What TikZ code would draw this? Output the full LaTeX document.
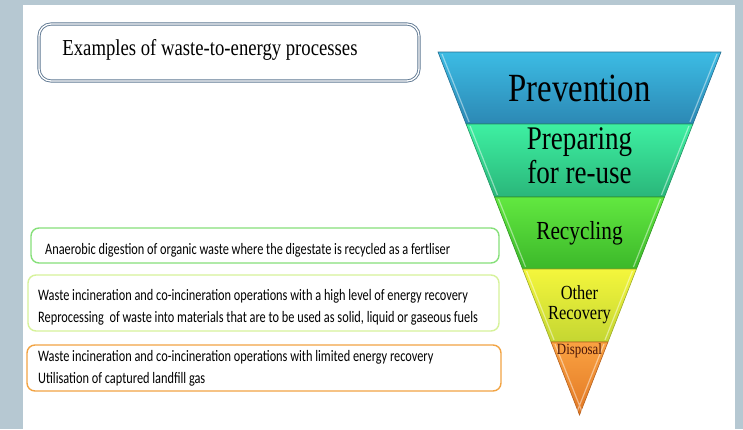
\documentclass[tikz,border=0pt]{standalone}
\usepackage{fontspec}
\usepackage{graphicx}
\newfontfamily\tierface{Liberation Serif}
\newfontfamily\boxface{Carlito}
% colours
\definecolor{slide}{HTML}{B6C8D2}
\definecolor{titleline}{HTML}{5F7892}
\definecolor{prevtop}{HTML}{3CBCE4}
\definecolor{prevbot}{HTML}{2C88B4}
\definecolor{preptop}{HTML}{3EF0A2}
\definecolor{prepbot}{HTML}{2AB67A}
\definecolor{recytop}{HTML}{62E840}
\definecolor{recybot}{HTML}{3CB82A}
\definecolor{othtop}{HTML}{F4F63C}
\definecolor{othbot}{HTML}{C4D632}
\definecolor{disptop}{HTML}{FAA242}
\definecolor{dispbot}{HTML}{E27824}
\definecolor{lineA}{HTML}{86E07A}
\definecolor{lineB}{HTML}{D6F29A}
\definecolor{lineC}{HTML}{F2A444}
\definecolor{dispink}{HTML}{4A160A}
\newcommand{\squish}[2][0.82]{\scalebox{#1}[1]{#2}}
\tikzset{
  titlebox/.style={draw=titleline, double=white, double distance=1.3pt, line width=0.9pt,
    rounded corners=12pt, fill=white, minimum width=380pt, minimum height=57pt},
  exbox/.style={rounded corners=8pt, line width=1.4pt, fill=white},
  extext/.style={font=\boxface\fontsize{16}{18}\selectfont, anchor=west, inner sep=0pt},
  tier/.style={font=\tierface, inner sep=0pt, align=center},
}
\begin{document}
\begin{tikzpicture}[x=1pt,y=-1pt]
    \useasboundingbox (0,0) rectangle (743,429);
    \fill[slide] (0,0) rectangle (743,429);
    \fill[white] (23,5) rectangle (735,429);
    % heading
    \node[titlebox] (head) at (229,52.5) {};
    \node[tier, font=\tierface\fontsize{22.8}{24}\selectfont] (headtxt) at (210,50)
        {\squish{Examples of waste-to-energy processes}};
    % the inverted pyramid
    \foreach \yt/\yb/\ct/\cb in {52/124/prevtop/prevbot, 124/197/preptop/prepbot,
        197/269/recytop/recybot, 269/342/othtop/othbot, 342/415/disptop/dispbot}{
      \pgfmathsetmacro\wt{0.3898*(415-\yt)}
      \pgfmathsetmacro\wb{0.3898*(415-\yb)}
      \shade[top color=\ct, bottom color=\cb, draw=\cb!80!black, line width=0.6pt]
        (579.5-\wt,\yt) -- (579.5+\wt,\yt) -- (579.5+\wb,\yb) -- (579.5-\wb,\yb) -- cycle;
      % light bevel on the slanted sides
      \draw[white, opacity=0.45, line width=1.2pt]
        (579.5-\wt+4,\yt+2) -- (579.5-\wb+3,\yb-2)
        (579.5+\wt-4,\yt+2) -- (579.5+\wb-3,\yb-2);
    }
    \node[tier, font=\tierface\fontsize{40}{40}\selectfont] (prev) at (579.5,88)
        {\squish{Prevention}};
    \node[tier, font=\tierface\fontsize{33}{34}\selectfont] (prep) at (579.5,160)
        {\squish{\begin{tabular}{@{}c@{}}Preparing\\for re-use\end{tabular}}};
    \node[tier, font=\tierface\fontsize{26}{26}\selectfont] (recy) at (579.5,233)
        {\squish{Recycling}};
    \node[tier, font=\tierface\fontsize{20}{20}\selectfont] (oth) at (579.5,305)
        {\squish{\begin{tabular}{@{}c@{}}Other\\Recovery\end{tabular}}};
    \node[tier, text=dispink, font=\tierface\fontsize{15.7}{16}\selectfont] (disp) at (579.5,351)
        {\squish{Disposal}};
    % examples
    \node[exbox, draw=lineA, minimum width=468pt, minimum height=35pt] (exA) at (265,245.5) {};
    \node[extext] (exAone) at (45,250)
        {\squish[0.77]{Anaerobic digestion of organic waste where the digestate is recycled as a fertliser}};
    \node[exbox, draw=lineB, minimum width=471pt, minimum height=56pt] (exB) at (263.5,303) {};
    \node[extext] (exBone) at (38,296)
        {\squish[0.77]{Waste incineration and co-incineration operations with a high level of energy recovery}};
    \node[extext] (exBtwo) at (38,318)
        {\squish[0.77]{Reprocessing\ \ of waste into materials that are to be used as solid, liquid or gaseous fuels}};
    \node[exbox, draw=lineC, minimum width=474pt, minimum height=46pt] (exC) at (264,368) {};
    \node[extext] (exCone) at (38,357)
        {\squish[0.77]{Waste incineration and co-incineration operations with limited energy recovery}};
    \node[extext] (exCtwo) at (38,379)
        {\squish[0.77]{Utilisation of captured landfill gas}};
\end{tikzpicture}
\end{document}
